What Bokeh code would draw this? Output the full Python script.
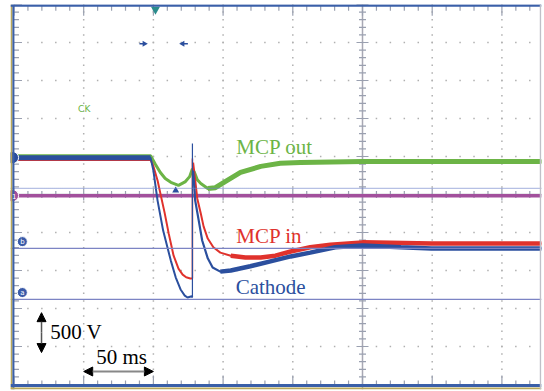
import numpy as np
from bokeh.plotting import figure
from bokeh.models import Range1d, Label, Arrow, NormalHead, Span
from bokeh.embed import file_html
from bokeh.resources import INLINE

# ---- data (time in divisions of 50 ms, level in divisions of 500 V) ----
cathode_pre_t = [-5.02, -3.04, -3.00, -2.94, -2.86, -2.75, -2.68, -2.61, -2.55, -2.51, -2.45, -2.44]
cathode_pre_v = [5.97, 5.97, 5.63, 4.84, 4.05, 3.26, 2.82, 2.50, 2.34, 2.29, 2.32, 2.29]
cathode_spike_t = -2.44
cathode_spike_top = 6.34
cathode_post_t = [-2.43, -2.40, -2.35, -2.30, -2.22, -2.15, -2.04, -1.89, -1.61, -1.32, -1.03, -0.75, -0.39, 0.0, 0.55, 0.99, 2.57]
cathode_post_v = [5.63, 4.84, 4.32, 3.79, 3.32, 3.08, 2.97, 3.00, 3.11, 3.24, 3.37, 3.47, 3.61, 3.66, 3.61, 3.58, 3.58]

mcpin_pre_t = [-5.02, -3.04, -3.00, -2.94, -2.90, -2.84, -2.78, -2.71, -2.64, -2.58, -2.53, -2.47, -2.44]
mcpin_pre_v = [5.91, 5.91, 5.74, 5.37, 5.03, 4.53, 3.97, 3.39, 3.05, 2.89, 2.82, 2.79, 2.79]
mcpin_spike_top = 5.95
mcpin_post_t = [-2.43, -2.40, -2.37, -2.32, -2.28, -2.22, -2.14, -2.04, -1.89, -1.68, -1.46, -1.25, -1.03, -0.75, -0.46, 0.0, 0.99, 2.57]
mcpin_post_v = [5.84, 5.37, 4.89, 4.50, 4.16, 3.84, 3.61, 3.47, 3.39, 3.34, 3.34, 3.39, 3.50, 3.61, 3.68, 3.74, 3.71, 3.71]

mcpout_t = [-5.02, -3.04, -2.97, -2.90, -2.83, -2.75, -2.64, -2.54, -2.48, -2.44, -2.41, -2.37, -2.32, -2.22, -2.11, -1.97, -1.75, -1.46, -1.18, -0.89, 0.0, 2.57]
mcpout_v = [6.02, 6.02, 5.79, 5.58, 5.42, 5.32, 5.24, 5.34, 5.47, 5.68, 5.58, 5.39, 5.29, 5.16, 5.18, 5.34, 5.58, 5.74, 5.82, 5.84, 5.87, 5.87]

ch1_t = [-5.0, 2.57]
ch1_v = [4.97, 4.97]

trigger_level = 5.16
cursor_a = 2.24
cursor_b = 3.58

major_x = [-4, -3, -2, -1, 1, 2]
major_y = [1, 2, 3, 4, 6, 7, 8, 9]

BLUE = "#2b4f9e"
RED = "#e0322c"
GREEN = "#6cb446"
PURPLE = "#a2509c"

X0, X1 = -5.05, 2.568
Y0, Y1 = -0.132, 10.0
PXX = 531 / (X1 - X0)
PXY = 385 / (Y1 - Y0)

p = figure(width=544, height=391, output_backend="svg", toolbar_location=None,
           x_range=Range1d(X0, X1), y_range=Range1d(Y0, Y1),
           x_axis_type=None, y_axis_type=None,
           min_border_left=10, min_border_right=3, min_border_top=4, min_border_bottom=2)
p.xgrid.visible = False
p.ygrid.visible = False
p.outline_line_color = None
p.background_fill_color = "white"
p.border_fill_color = "white"

# ---- dotted graticule ----
fine_y = np.arange(0, 10.001, 0.2)
fine_x = np.arange(-5.0, 2.6, 0.2)
dx, dy = [], []
for gx in major_x:
    dx += [gx] * len(fine_y); dy += list(fine_y)
for gy in major_y:
    dx += list(fine_x); dy += [gy] * len(fine_x)
p.scatter(dx, dy, marker="square", size=1.5, fill_color="#b0b0b0", line_color=None)

# centre lines
p.line([0, 0], [Y0, Y1], line_color="#a8a8b4", line_width=1.5)
p.line([X0, X1], [5, 5], line_color="#a8a8b4", line_width=1.5)

def ticks(pos, major_pos, along, base, minor_len, major_len, direction, centered=False):
    x0, y0, x1, y1 = [], [], [], []
    for v in pos:
        is_major = any(abs(v - m) < 1e-6 for m in major_pos)
        L = major_len if is_major else minor_len
        if along == "x":
            Ld = L / PXY
            if centered:
                x0.append(v); x1.append(v); y0.append(base - Ld / 2); y1.append(base + Ld / 2)
            else:
                x0.append(v); x1.append(v); y0.append(base); y1.append(base + direction * Ld)
        else:
            Ld = L / PXX
            if centered:
                y0.append(v); y1.append(v); x0.append(base - Ld / 2); x1.append(base + Ld / 2)
            else:
                y0.append(v); y1.append(v); x0.append(base); x1.append(base + direction * Ld)
    p.segment(x0, y0, x1, y1, line_color="#9aa0b0", line_width=1.2)

all_major_x = list(range(-5, 3))
all_major_y = list(range(0, 11))
ticks(fine_x, all_major_x, "x", 9.97, 5, 10, -1)
ticks(fine_x, all_major_x, "x", -0.03, 5, 10, 1)
ticks(fine_y, all_major_y, "y", -5.0, 5, 8, 1)
ticks(fine_y, all_major_y, "y", 0.0, 7, 12, 0, centered=True)
ticks(fine_x, all_major_x, "x", 5.0, 7, 12, 0, centered=True)

# trigger level & cursors
p.add_layout(Span(location=trigger_level, dimension="width", line_color="#6c80c8", line_width=1.3, line_dash="1 1"))
p.add_layout(Span(location=cursor_b, dimension="width", line_color="#7c84c4", line_width=1.2))
p.add_layout(Span(location=cursor_a, dimension="width", line_color="#7c84c4", line_width=1.2))

# ---- traces ----
p.line(ch1_t, ch1_v, line_color=PURPLE, line_width=3.5)

gt = np.array(mcpout_t); gv = np.array(mcpout_v)
p.line(gt, gv, line_color=GREEN, line_width=3)
m = gt >= -2.25
p.line(gt[m], gv[m], line_color=GREEN, line_width=5)

p.line(mcpin_pre_t, mcpin_pre_v, line_color=RED, line_width=2)
p.line([cathode_spike_t, cathode_spike_t], [mcpin_pre_v[-1], mcpin_spike_top], line_color=RED, line_width=1.5)
rt = np.array(mcpin_post_t); rv = np.array(mcpin_post_v)
p.line(rt, rv, line_color=RED, line_width=2)
m = rt >= -1.9
p.line(rt[m], rv[m], line_color=RED, line_width=4.5)

bt = np.array(cathode_pre_t); bv = np.array(cathode_pre_v)
p.line(bt, bv, line_color=BLUE, line_width=2)
m = bt <= -3.04
p.line(bt[m], bv[m], line_color=BLUE, line_width=5)
p.line([cathode_spike_t, cathode_spike_t], [cathode_pre_v[-1], cathode_spike_top], line_color=BLUE, line_width=1.2)
bt2 = np.array(cathode_post_t); bv2 = np.array(cathode_post_v)
p.line(bt2, bv2, line_color=BLUE, line_width=2.2)
m = bt2 >= -2.1
p.line(bt2[m], bv2[m], line_color=BLUE, line_width=4.5)

# ---- frame borders ----
p.add_layout(Span(location=-5.036, dimension="height", line_color="#b8a85c", line_width=2))
p.add_layout(Span(location=-5.008, dimension="height", line_color="#3a5fa8", line_width=2))
p.add_layout(Span(location=-0.105, dimension="width", line_color="#b8a85c", line_width=2))
p.add_layout(Span(location=-0.03, dimension="width", line_color="#3a5fa8", line_width=3))
p.add_layout(Span(location=9.975, dimension="width", line_color="#3a5fa8", line_width=2.5))
p.add_layout(Span(location=2.554, dimension="height", line_color="#c0c0c8", line_width=1.5))

# ---- markers ----
p.scatter([-5.02], [5.97], marker="circle", size=12, fill_color=BLUE, line_color="white", line_width=1)
p.scatter([-5.02], [4.97], marker="circle", size=12, fill_color=PURPLE, line_color="white", line_width=1)
p.scatter([-4.88, -4.88], [3.76, 2.42], marker="circle", size=10, fill_color="#3a5aa8", line_color="white", line_width=1)
for t, (xx, yy) in zip(["b", "a"], [(-4.88, 3.76), (-4.88, 2.42)]):
    p.add_layout(Label(x=xx, y=yy, text=t, text_color="white", text_font_size="7px",
                       text_align="center", text_baseline="middle", text_font="DejaVu Sans"))
p.add_layout(Label(x=-4.995, y=4.97, text="1", text_color="white", text_font_size="7px",
                   text_align="center", text_baseline="middle", text_font="DejaVu Sans"))

p.scatter([-2.97], [9.87], marker="inverted_triangle", size=9, fill_color="#2a8c8c", line_color=None)
p.scatter([-2.68], [5.105], marker="triangle", size=7, fill_color=BLUE, line_color=None)
p.scatter([-3.13], [8.97], marker="triangle", size=6, angle=-np.pi / 2, fill_color=BLUE, line_color=None)
p.scatter([-2.58], [8.97], marker="triangle", size=6, angle=np.pi / 2, fill_color=BLUE, line_color=None)
p.segment([-3.20, -2.575], [8.97, 8.97], [-3.13, -2.505], [8.97, 8.97], line_color=BLUE, line_width=1.5)

p.add_layout(Label(x=-4.08, y=7.26, text="CK", text_color=GREEN, text_font_size="9px",
                   text_baseline="middle", text_font="DejaVu Sans"))

# ---- labels ----
SERIF = "Liberation Serif"
DY = 0.18
p.add_layout(Label(x=-1.81, y=6.08 + DY, text="MCP out", text_color=GREEN, text_font_size="21px",
                   text_font=SERIF, text_baseline="alphabetic"))
p.add_layout(Label(x=-1.81, y=3.74 + DY, text="MCP in", text_color=RED, text_font_size="21px",
                   text_font=SERIF, text_baseline="alphabetic"))
p.add_layout(Label(x=-1.82, y=2.39 + DY, text="Cathode", text_color=BLUE, text_font_size="21px",
                   text_font=SERIF, text_baseline="alphabetic"))
p.add_layout(Label(x=-4.48, y=1.21 + DY, text="500 V", text_color="black", text_font_size="21px",
                   text_font=SERIF, text_baseline="alphabetic"))
p.add_layout(Label(x=-3.82, y=0.553 + DY, text="50 ms", text_color="black", text_font_size="21px",
                   text_font=SERIF, text_baseline="alphabetic"))

p.add_layout(Arrow(x_start=-4.605, y_start=1.37, x_end=-4.605, y_end=1.89,
                   end=NormalHead(size=9, fill_color="black", line_color="black"),
                   line_color="#555555", line_width=1.5))
p.add_layout(Arrow(x_start=-4.605, y_start=1.37, x_end=-4.605, y_end=0.84,
                   end=NormalHead(size=9, fill_color="black", line_color="black"),
                   line_color="#555555", line_width=1.5))
p.add_layout(Arrow(x_start=-4.0, y_start=0.342, x_end=-3.0, y_end=0.342,
                   start=NormalHead(size=9, fill_color="black", line_color="black"),
                   end=NormalHead(size=9, fill_color="black", line_color="black"),
                   line_color="#888888", line_width=2))

open("out.html", "w").write(file_html(p, INLINE))
